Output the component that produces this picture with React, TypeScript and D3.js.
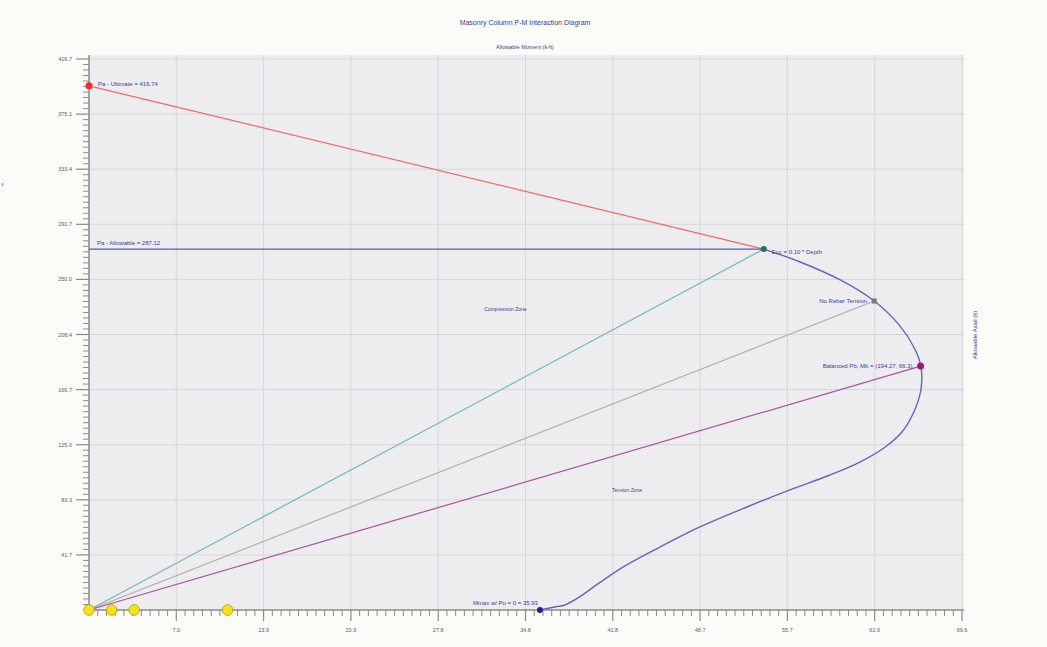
import * as d3 from "d3";

// axis tick labels as printed on the chart
const xTickLabels = ["7.0", "13.9", "20.9", "27.8", "34.8", "41.8", "48.7", "55.7", "62.6", "69.6"];
const yTickLabels = ["41.7", "83.3", "125.0", "166.7", "208.4", "250.0", "291.7", "333.4", "375.1", "416.7"];

// interaction curve (moment k-ft, axial k)
const curveM = [53.8, 56.7, 59.9, 62.6, 64.6, 65.8, 66.32, 66.32, 65.76, 64.81, 63.37, 61.46, 59.07, 55.88, 52.45, 48.7, 45.52, 42.73, 40.57, 38.98, 37.94, 37.15, 35.95];
const curveP = [273.0, 263.2, 249.6, 233.7, 215.5, 198.2, 184.5, 166.4, 149.8, 134.6, 122.5, 111.9, 102.1, 90.8, 77.9, 62.8, 47.6, 33.3, 19.7, 9.1, 3.8, 2.3, 0];

// key points
const ultimate = { m: 0, p: 396.5, label: "Pa - Ultimate = 416.74" };
const allowable = { m: 53.8, p: 273.0, label: "Pa - Allowable = 287.12" };
const eccPoint = { m: 53.8, p: 273.0, label: "Ecc = 0.10 * Depth" };
const noTension = { m: 62.6, p: 233.7, label: "No Rebar Tension" };
const balanced = { m: 66.3, p: 184.5, label: "Balanced Pb, Mb = (194.27, 66.3)" };
const mmax = { m: 35.95, p: 0, label: "Mmax w/ Pu = 0 = 35.93" };
const yellowM = [0, 1.8, 3.6, 11.05];

const zones = [
  { m: 33.2, p: 227.6, label: "Compression Zone" },
  { m: 42.9, p: 90.8, label: "Tension Zone" },
];

const W = 1047;
const H = 647;
const navy = "#3b3b90";
const font = "'Liberation Sans', Arial, sans-serif";

export default function App() {
  const x = d3.scaleLinear().domain([0, 69.6]).range([89, 962]);
  const y = d3.scaleLinear().domain([0, 416.74]).range([610, 59]);

  const xStep = 69.6 / 10;
  const yStep = 416.74 / 10;
  const xMajor = xTickLabels.map((_, i) => (i + 1) * xStep);
  const yMajor = yTickLabels.map((_, i) => (i + 1) * yStep);
  const xMinor = d3.range(0, 100).map((i) => (i * xStep) / 10).filter((_, i) => i % 10 !== 0);
  const yMinor = d3.range(0, 100).map((i) => (i * yStep) / 10).filter((_, i) => i % 10 !== 0);

  const line = d3
    .line<number>()
    .x((_, i) => x(curveM[i]))
    .y((_, i) => y(curveP[i]))
    .curve(d3.curveCatmullRom.alpha(0.5));

  const seg = (a: { m: number; p: number }, b: { m: number; p: number }) => ({
    x1: x(a.m),
    y1: y(a.p),
    x2: x(b.m),
    y2: y(b.p),
  });
  const origin = { m: 0, p: 0 };

  return (
    <svg width={W} height={H} style={{ position: "absolute", left: 0, top: 0 }} fontFamily={font}>
      <rect width={W} height={H} fill="#fbfbf7" />
      {/* plot background */}
      <rect x={89} y={55} width={875} height={555} fill="#ededf0" />

      {/* grid */}
      {xMajor.map((v) => (
        <line key={"gx" + v} x1={x(v)} x2={x(v)} y1={55} y2={610} stroke="#d6d6d9" strokeWidth={1} />
      ))}
      {yMajor.map((v) => (
        <line key={"gy" + v} x1={89} x2={964} y1={y(v)} y2={y(v)} stroke="#d6d6d9" strokeWidth={1} />
      ))}

      <text x={525} y={25} textAnchor="middle" fontSize={7} fill={navy}>
        Masonry Column P-M Interaction Diagram
      </text>
      <text x={525} y={49} textAnchor="middle" fontSize={5.5} fill={navy}>
        Allowable Moment (k-ft)
      </text>
      <text
        transform={`translate(977,335) rotate(-90)`}
        textAnchor="middle"
        fontSize={6}
        fill={navy}
      >
        Allowable Axial (k)
      </text>
      <text x={1} y={186} fontSize={6} fill="#a05a96">
        x
      </text>

      {/* x axis */}
      <line x1={89} x2={964} y1={610} y2={610} stroke="#8a8a8a" strokeWidth={1.5} />
      {xMinor.map((v) => (
        <line key={"mx" + v} x1={x(v)} x2={x(v)} y1={610} y2={616} stroke="#8a8a8a" strokeWidth={1} />
      ))}
      {xMajor.map((v, i) => (
        <g key={"tx" + v}>
          <line x1={x(v)} x2={x(v)} y1={610} y2={621} stroke="#8a8a8a" strokeWidth={1.2} />
          <text x={x(v)} y={632} textAnchor="middle" fontSize={5.5} fill="#606060">
            {xTickLabels[i]}
          </text>
        </g>
      ))}

      {/* y axis */}
      <line x1={89} x2={89} y1={55} y2={610} stroke="#8a8a8a" strokeWidth={1.5} />
      {yMinor.map((v) => (
        <line key={"my" + v} x1={83} x2={89} y1={y(v)} y2={y(v)} stroke="#8a8a8a" strokeWidth={1} />
      ))}
      {yMajor.map((v, i) => (
        <g key={"ty" + v}>
          <line x1={76} x2={89} y1={y(v)} y2={y(v)} stroke="#8a8a8a" strokeWidth={1.2} />
          <text x={72} y={y(v) + 2} textAnchor="end" fontSize={5.5} fill="#606060">
            {yTickLabels[i]}
          </text>
        </g>
      ))}

      {/* lines */}
      <line {...seg(origin, eccPoint)} stroke="#6fb9aa" strokeWidth={1.2} />
      <line {...seg(origin, noTension)} stroke="#b4aaac" strokeWidth={1.2} />
      <line {...seg(origin, balanced)} stroke="#b050a2" strokeWidth={1.2} />
      <line {...seg(ultimate, eccPoint)} stroke="#f06a6a" strokeWidth={1.3} />
      <line x1={x(0)} x2={x(allowable.m)} y1={y(allowable.p)} y2={y(allowable.p)} stroke="#5a5ab4" strokeWidth={1.2} />
      <path d={line(curveM) ?? ""} fill="none" stroke="#6464b4" strokeWidth={1.4} />

      {/* markers */}
      <circle cx={x(ultimate.m)} cy={y(ultimate.p)} r={3.5} fill="#f02828" />
      <circle cx={x(eccPoint.m)} cy={y(eccPoint.p)} r={3} fill="#1a7468" />
      <rect x={x(noTension.m) - 2.5} y={y(noTension.p) - 2.5} width={5} height={5} fill="#7a7a7a" />
      <circle cx={x(balanced.m)} cy={y(balanced.p)} r={3.5} fill="#9a1a7c" />
      <circle cx={x(mmax.m)} cy={y(mmax.p)} r={3} fill="#22228a" />
      {yellowM.map((m) => (
        <circle key={"yd" + m} cx={x(m)} cy={610} r={5.3} fill="#f6e21a" stroke="#b09a10" strokeWidth={0.8} />
      ))}

      {/* annotations */}
      <g fontSize={6} fill={navy}>
        <text x={x(ultimate.m) + 9} y={y(ultimate.p) + 0.5}>
          {ultimate.label}
        </text>
        <text x={x(0) + 8} y={y(allowable.p) - 4}>
          {allowable.label}
        </text>
        <text x={x(eccPoint.m) + 8} y={y(eccPoint.p) + 5}>
          {eccPoint.label}
        </text>
        <text x={x(noTension.m) - 7} y={y(noTension.p) + 2} textAnchor="end">
          {noTension.label}
        </text>
        <text x={x(balanced.m) - 8} y={y(balanced.p) + 2} textAnchor="end">
          {balanced.label}
        </text>
        <text x={x(mmax.m) - 2} y={y(mmax.p) - 5} textAnchor="end">
          {mmax.label}
        </text>
        {zones.map((z) => (
          <text key={z.label} x={x(z.m)} y={y(z.p) + 2} textAnchor="middle" fontSize={5}>
            {z.label}
          </text>
        ))}
      </g>
    </svg>
  );
}
